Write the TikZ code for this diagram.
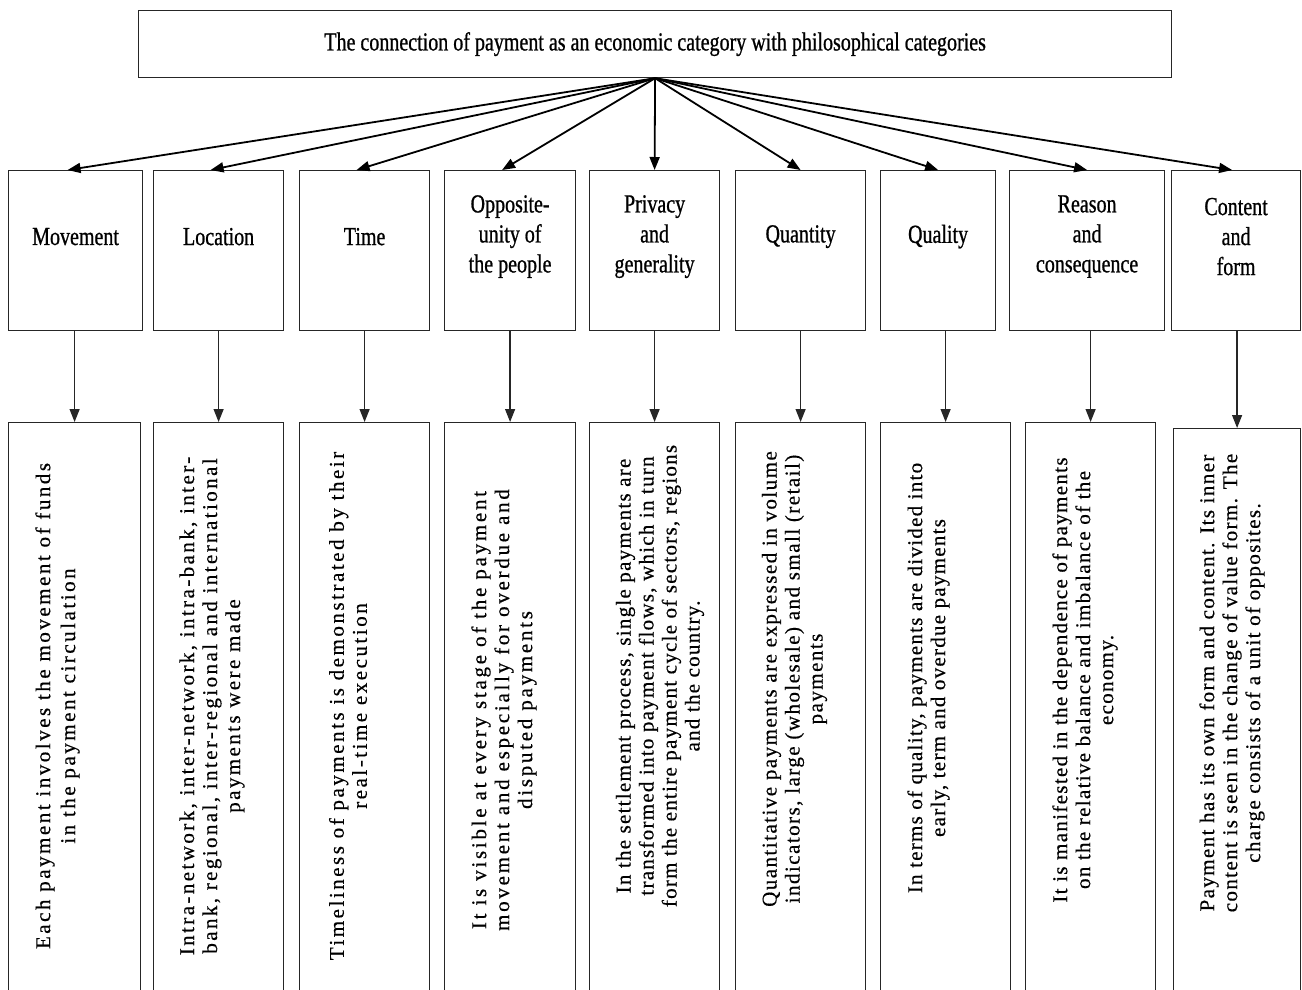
\documentclass[tikz,border=0pt]{standalone}
\usepackage{fontspec}
\usetikzlibrary{arrows.meta}
\setmainfont{Liberation Serif}
\newfontfamily\condfont[FakeStretch=0.77,FakeBold=0.8]{Liberation Serif}
\newfontfamily\descfont[FakeBold=0.4]{Liberation Serif}
\tikzset{
  box/.style={draw=black!85, line width=1.2pt, inner sep=0pt, anchor=north west},
  lab/.style={align=center, inner sep=0pt, font=\condfont\fontsize{26}{30}\selectfont},
  fan/.style={line width=1.8pt, -{Triangle[length=13pt,width=10pt]}},
  varr/.style={line width=1.3pt, draw=black!85, -{Triangle[length=13pt,width=10pt]}},
  descA/.style={rotate=90, align=center, inner sep=0pt,
    font=\descfont\fontsize{21}{23}\selectfont\addfontfeature{LetterSpace=#1}},
  descA/.default=6
}
\begin{document}
\begin{tikzpicture}[x=1pt,y=-1pt]
\useasboundingbox (0,0) rectangle (1302,989);
\fill[white] (0,0) rectangle (1302,989);
% top box
\node[box, minimum width=1033, minimum height=67,
  font=\condfont\fontsize{26}{30}\selectfont] (top) at (138,10)
  {The connection of payment as an economic category with philosophical categories};
% middle boxes
\node[box, minimum width=134, minimum height=160] (m1) at (8,170) {};
\node[box, minimum width=130, minimum height=160] (m2) at (153,170) {};
\node[box, minimum width=130, minimum height=160] (m3) at (299,170) {};
\node[box, minimum width=131, minimum height=160] (m4) at (444,170) {};
\node[box, minimum width=130, minimum height=160] (m5) at (589,170) {};
\node[box, minimum width=130, minimum height=160] (m6) at (735,170) {};
\node[box, minimum width=115, minimum height=160] (m7) at (880,170) {};
\node[box, minimum width=155, minimum height=160] (m8) at (1009,170) {};
\node[box, minimum width=129, minimum height=160] (m9) at (1171,170) {};
% labels
\node[lab] (l1) at ([yshift=14pt]m1.center) {Movement};
\node[lab] (l2) at ([yshift=14pt]m2.center) {Location};
\node[lab] (l3) at ([yshift=14pt]m3.center) {Time};
\node[lab] (l4) at ([yshift=14pt]m4.center) {Opposite-\\unity of\\the people};
\node[lab] (l5) at ([yshift=14pt]m5.center) {Privacy\\and\\generality};
\node[lab] (l6) at ([yshift=14pt]m6.center) {Quantity};
\node[lab] (l7) at ([yshift=14pt]m7.center) {Quality};
\node[lab] (l8) at ([yshift=14pt]m8.center) {Reason\\and\\consequence};
\node[lab] (l9) at ([yshift=14pt]m9.center) {Content\\and\\form};
% bottom boxes
\node[box, minimum width=132, minimum height=570] (b1) at (8,422) {};
\node[box, minimum width=130, minimum height=570] (b2) at (153,422) {};
\node[box, minimum width=130, minimum height=570] (b3) at (299,422) {};
\node[box, minimum width=131, minimum height=570] (b4) at (444,422) {};
\node[box, minimum width=130, minimum height=570] (b5) at (589,422) {};
\node[box, minimum width=130, minimum height=570] (b6) at (735,422) {};
\node[box, minimum width=130, minimum height=570] (b7) at (880,422) {};
\node[box, minimum width=130, minimum height=570] (b8) at (1025,422) {};
\node[box, minimum width=127, minimum height=564] (b9) at (1173,428) {};
% descriptions
\node[descA=12, font=\descfont\fontsize{21}{25}\selectfont\addfontfeature{LetterSpace=12}] (t1) at (57.5,706)
  {Each payment involves the movement of funds\\in the payment circulation};
\node[descA=11.5] (t2) at (212,706)
  {Intra-network, inter-network, intra-bank, inter-\\bank, regional, inter-regional and international\\payments were made};
\node[descA=12] (t3) at (348,706)
  {Timeliness of payments is demonstrated by their\\real-time execution};
\node[descA=13] (t4) at (504,710)
  {It is visible at every stage of the payment\\movement and especially for overdue and\\disputed payments};
\node[descA=6] (t5) at (660,676)
  {In the settlement process, single payments are\\transformed into payment flows, which in turn\\form the entire payment cycle of sectors, regions\\and the country.};
\node[descA=7] (t6) at (794.5,679)
  {Quantitative payments are expressed in volume\\indicators, large (wholesale) and small (retail)\\payments};
\node[descA=6] (t7) at (928.5,678)
  {In terms of quality, payments are divided into\\early, term and overdue payments};
\node[descA=6.3] (t8) at (1085,680)
  {It is manifested in the dependence of payments\\on the relative balance and imbalance of the\\economy.};
\node[descA=6.6] (t9) at (1232,683)
  {Payment has its own form and content. Its inner\\content is seen in the change of value form. The\\charge consists of a unit of opposites.};
% fan arrows
\draw[fan] (top.south) -- ([xshift=-8pt]m1.north);
\draw[fan] (top.south) -- ([xshift=-8pt]m2.north);
\draw[fan] (top.south) -- ([xshift=-8pt]m3.north);
\draw[fan] (top.south) -- ([xshift=-8pt]m4.north);
\draw[fan] (top.south) -- (m5.north);
\draw[fan] (top.south) -- (m6.north);
\draw[fan] (top.south) -- (m7.north);
\draw[fan] (top.south) -- (m8.north);
\draw[fan] (top.south) -- ([xshift=-4pt]m9.north);
% vertical arrows
\draw[varr] (m1.south -| b1.north) -- (b1.north);
\draw[varr] (m2.south -| b2.north) -- (b2.north);
\draw[varr] (m3.south -| b3.north) -- (b3.north);
\draw[varr] (m4.south -| b4.north) -- (b4.north);
\draw[varr] (m5.south -| b5.north) -- (b5.north);
\draw[varr] (m6.south -| b6.north) -- (b6.north);
\draw[varr] (m7.south -| b7.north) -- (b7.north);
\draw[varr] (m8.south -| b8.north) -- (b8.north);
\draw[varr] (m9.south -| b9.north) -- (b9.north);
\end{tikzpicture}
\end{document}
